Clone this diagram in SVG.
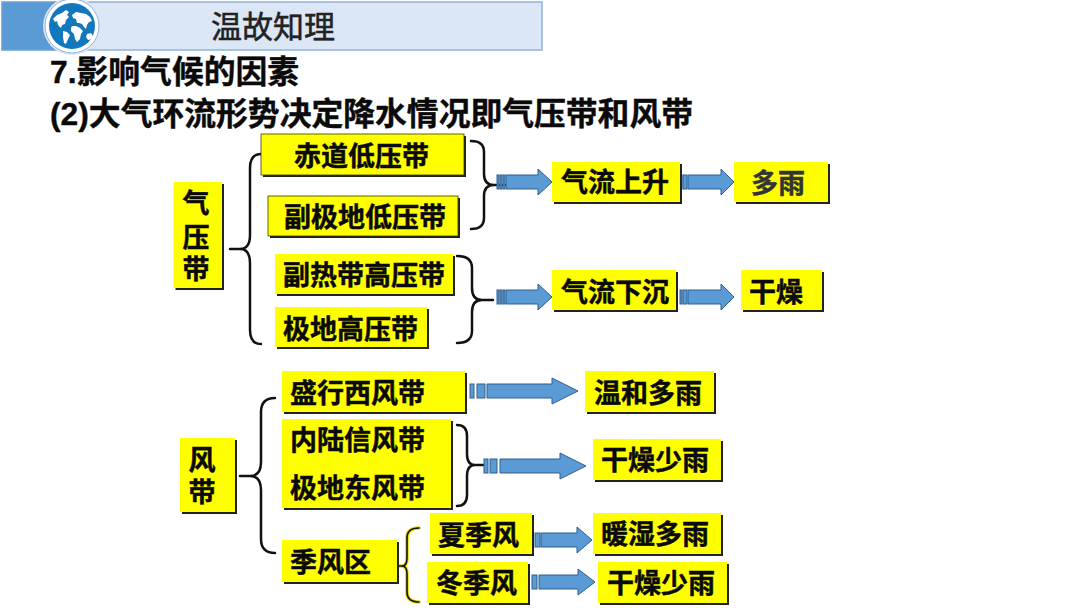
<svg xmlns="http://www.w3.org/2000/svg" width="1080" height="608" viewBox="0 0 1080 608">
<style>
.b{fill:#ffff00}
.s{fill:#222}
.t{font-family:"Liberation Sans","Noto Sans CJK SC",sans-serif;font-weight:700;font-size:27px;fill:#0a0a0a;stroke:#0a0a0a;stroke-width:.45}
.h{font-family:"Liberation Sans","Noto Sans CJK SC",sans-serif;font-weight:700;font-size:31.8px;fill:#0a0a0a;stroke:#0a0a0a;stroke-width:.4}
.a{fill:#5b9bd5;stroke:#2f5f8f;stroke-width:1}
.br{fill:none;stroke:#111;stroke-width:2.5;stroke-linecap:round}
</style>
<g id="header">
<rect x="2" y="2" width="540" height="48" fill="#dbe7f5" stroke="#8fb4dc" stroke-width="1.5"/>
<rect x="2" y="2" width="56" height="48" fill="#5b9bd5" stroke="#6fa5d9" stroke-width="1"/>
<circle cx="72" cy="26" r="29" fill="#dbe7f5"/>
<circle cx="72" cy="26" r="27" fill="#fff" stroke="#8fb4dc" stroke-width="1"/>
<circle cx="72" cy="26" r="23" fill="#1278bd"/>
<path d="M53 19l4-4 5-2 4-3 3 2-2 3 2 2-3 3-1 4-3 1-1 3-3-3-1-4-2 1zM63 31l4 1 3 3-2 4-2 5-2-1-1-6zM72 15l4-3 5 1 5 1 4 3 2 4-3 1-2 3-1 4-2-2-2-3-3-1-2 0-1-4-3-1zM72 26l4 0 4 2 3 3-2 3-1 5-3 3-2-3-1-5-3-3 0-3zM87 34l4-1 2 3-1 3-4 1-2-3z" fill="#fff"/>
<text x="211" y="38" font-family="'Liberation Serif','Noto Sans CJK SC',serif" font-size="31" fill="#222" stroke="#222" stroke-width=".5">温故知理</text>
</g>
<g id="title">
<text class="h" x="50" y="83">7.影响气候的因素</text>
<text class="h" x="50" y="125">(2)大气环流形势决定降水情况即气压带和风带</text>
</g>
<g id="connectors">
<path class="br" d="M230 249H240Q250 249 250 235V168Q250 154 261 154M240 249Q250 249 250 263V330Q250 344 261 344"/>
<path class="br" d="M471 141Q484 141 484 152V174Q484 185 494 185H505M494 185Q484 185 484 196V218Q484 229 471 229"/>
<path class="br" d="M457 256Q472 256 472 268V288Q472 300 482 300H493M482 300Q472 300 472 312V331Q472 343 457 343"/>
<path class="br" d="M240 476H250Q261 476 261 462V412Q261 398 275 398M250 476Q261 476 261 490V539Q261 553 275 553" stroke-width="2.2"/>
<path class="br" d="M457 425Q467 425 467 436V454Q467 465 475 465H483M475 465Q467 465 467 476V495Q467 506 457 506" stroke-width="2"/>
<path class="br" style="stroke:#e8d800;stroke-width:3.5" d="M397 566H402Q407 566 407 558V538Q407 528 419 528M402 566Q407 566 407 574V592Q407 602 419 602"/>
<path class="br" style="stroke-width:1.6" d="M397 566H402Q407 566 407 558V538Q407 528 419 528M402 566Q407 566 407 574V592Q407 602 419 602"/>
<g id="arrow-1"><rect class="a" x="497" y="175" width="2" height="14"/><rect class="a" x="500" y="175" width="2" height="14"/><rect class="a" x="503" y="175" width="2" height="14"/><path class="a" d="M506 175H538V169L552 182L538 195V189H506Z"/></g>
<g id="arrow-2"><rect class="a" x="680" y="175" width="2" height="14"/><rect class="a" x="683" y="175" width="4" height="14"/><path class="a" d="M688 175H721V169L734 182L721 195V189H688Z"/></g>
<g id="arrow-3"><rect class="a" x="497" y="290" width="2" height="14"/><rect class="a" x="500" y="290" width="2" height="14"/><rect class="a" x="503" y="290" width="2" height="14"/><path class="a" d="M506 290H538V284L552 297L538 310V304H506Z"/></g>
<g id="arrow-4"><rect class="a" x="680" y="290" width="2" height="14"/><rect class="a" x="683" y="290" width="4" height="14"/><path class="a" d="M688 290H721V284L734 297L721 310V304H688Z"/></g>
<g id="arrow-5"><rect class="a" x="470" y="384" width="4" height="14"/><rect class="a" x="477" y="384" width="8" height="14"/><path class="a" d="M487 384H552V378L578 391L552 404V398H487Z"/></g>
<g id="arrow-6"><rect class="a" x="484" y="459" width="4" height="14"/><rect class="a" x="490" y="459" width="7" height="14"/><path class="a" d="M500 459H560V453L586 466L560 479V473H500Z"/></g>
<g id="arrow-7"><rect class="a" x="535" y="533" width="5" height="14"/><path class="a" d="M541 533H577V527L592 540L577 553V547H541Z"/></g>
<g id="arrow-8"><rect class="a" x="532" y="575" width="5" height="14"/><path class="a" d="M539 575H578V569L595 582L578 595V589H539Z"/></g>
</g>
<g id="n-qiyadai"><rect class="s" x="175.500" y="184" width="48.500" height="106"/><rect class="b" x="173.500" y="182" width="48.500" height="106"/><text class="t" x="196" y="213" text-anchor="middle">气</text><text class="t" x="196" y="247" text-anchor="middle">压</text><text class="t" x="196" y="279" text-anchor="middle">带</text></g>
<g id="n-chidao"><rect class="s" x="263" y="136" width="203" height="41"/><rect class="b" x="261" y="134" width="203" height="41" stroke="#3a3a00" stroke-width=".8"/><text class="t" x="294" y="166">赤道低压带</text></g>
<g id="n-fuji"><rect class="s" x="270" y="198" width="190" height="40"/><rect class="b" x="268" y="196" width="190" height="40" stroke="#3a3a00" stroke-width=".8"/><text class="t" x="284" y="227">副极地低压带</text></g>
<g id="n-fure"><rect class="s" x="277" y="256" width="178" height="40"/><rect class="b" x="275" y="254" width="178" height="40"/><text class="t" x="283" y="285">副热带高压带</text></g>
<g id="n-jidi"><rect class="s" x="277" y="309" width="152" height="40"/><rect class="b" x="275" y="307" width="152" height="40"/><text class="t" x="283" y="339">极地高压带</text></g>
<g id="n-shang"><rect class="s" x="554" y="164" width="128" height="40"/><rect class="b" x="552" y="162" width="128" height="40"/><text class="t" x="561" y="192">气流上升</text></g>
<g id="n-duoyu"><rect class="s" x="736" y="164" width="94" height="40"/><rect class="b" x="734" y="162" width="94" height="40"/><text class="t" x="751" y="193" style="fill:#333;stroke:#333">多雨</text></g>
<g id="n-xia"><rect class="s" x="554" y="272" width="124" height="40"/><rect class="b" x="552" y="270" width="124" height="40"/><text class="t" x="561" y="302">气流下沉</text></g>
<g id="n-ganzao"><rect class="s" x="743" y="272" width="81" height="40"/><rect class="b" x="741" y="270" width="81" height="40"/><text class="t" x="749" y="302">干燥</text></g>
<g id="n-fengdai"><rect class="s" x="182" y="440" width="55" height="74"/><rect class="b" x="180" y="438" width="55" height="74"/><text class="t" x="202" y="470" text-anchor="middle">风</text><text class="t" x="202" y="502" text-anchor="middle">带</text></g>
<g id="n-shengxing"><rect class="s" x="284" y="373" width="183" height="41"/><rect class="b" x="282" y="371" width="183" height="41"/><text class="t" x="290" y="403">盛行西风带</text></g>
<g id="n-neilu"><rect class="s" x="284" y="421" width="169" height="89"/><rect class="b" x="282" y="419" width="169" height="89"/><text class="t" x="290" y="450">内陆信风带</text><text class="t" x="290" y="498">极地东风带</text></g>
<g id="n-jifeng"><rect class="s" x="284" y="542" width="115" height="42"/><rect class="b" x="282" y="540" width="115" height="42"/><text class="t" x="290" y="572">季风区</text></g>
<g id="n-xia-feng"><rect class="s" x="432" y="515" width="102" height="41"/><rect class="b" x="430" y="513" width="102" height="41"/><text class="t" x="438" y="545">夏季风</text></g>
<g id="n-dong-feng"><rect class="s" x="429" y="564" width="101" height="41"/><rect class="b" x="427" y="562" width="101" height="41"/><text class="t" x="436" y="593">冬季风</text></g>
<g id="n-wenhe"><rect class="s" x="587" y="373" width="129" height="41"/><rect class="b" x="585" y="371" width="129" height="41"/><text class="t" x="594" y="403">温和多雨</text></g>
<g id="n-gan1"><rect class="s" x="595" y="441" width="128" height="41"/><rect class="b" x="593" y="439" width="128" height="41"/><text class="t" x="601" y="470">干燥少雨</text></g>
<g id="n-nuan"><rect class="s" x="595" y="515" width="128" height="41"/><rect class="b" x="593" y="513" width="128" height="41"/><text class="t" x="601" y="544">暖湿多雨</text></g>
<g id="n-gan2"><rect class="s" x="600" y="564" width="129" height="41"/><rect class="b" x="598" y="562" width="129" height="41"/><text class="t" x="607" y="593">干燥少雨</text></g>
</svg>
